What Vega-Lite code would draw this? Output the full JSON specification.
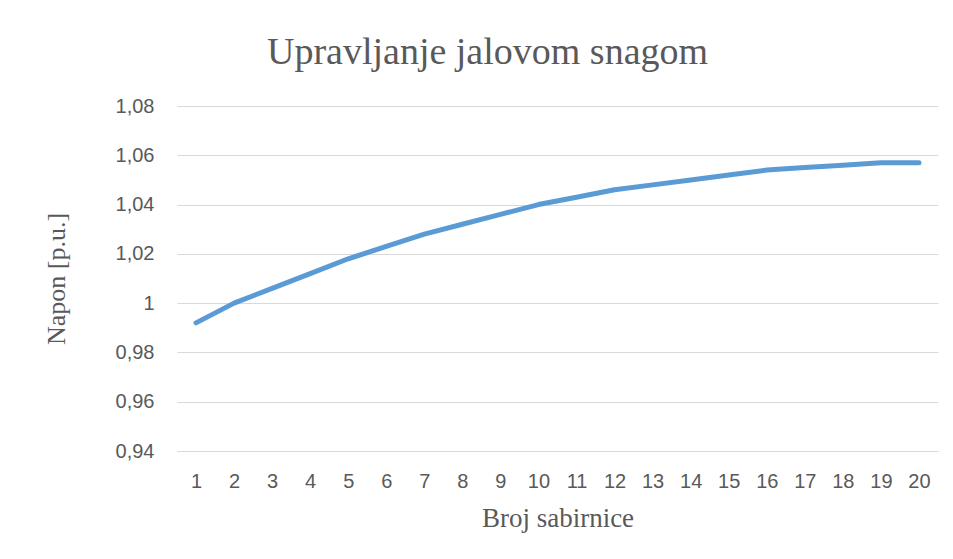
{
  "$schema": "https://vega.github.io/schema/vega-lite/v6.json",
  "width": 761,
  "height": 345,
  "autosize": {"type": "none"},
  "padding": {"left": 177, "top": 106, "right": 15, "bottom": 108},
  "background": "white",
  "title": {
    "text": "Upravljanje jalovom snagom",
    "font": "Liberation Serif",
    "fontSize": 38,
    "fontWeight": "normal",
    "color": "#595959",
    "anchor": "middle",
    "frame": "group",
    "dx": -70,
    "offset": 24
  },
  "data": {
    "values": [
      {"bus": 1, "v": 0.992},
      {"bus": 2, "v": 1.000},
      {"bus": 3, "v": 1.006},
      {"bus": 4, "v": 1.012},
      {"bus": 5, "v": 1.018},
      {"bus": 6, "v": 1.023},
      {"bus": 7, "v": 1.028},
      {"bus": 8, "v": 1.032},
      {"bus": 9, "v": 1.036},
      {"bus": 10, "v": 1.040},
      {"bus": 11, "v": 1.043},
      {"bus": 12, "v": 1.046},
      {"bus": 13, "v": 1.048},
      {"bus": 14, "v": 1.050},
      {"bus": 15, "v": 1.052},
      {"bus": 16, "v": 1.054},
      {"bus": 17, "v": 1.055},
      {"bus": 18, "v": 1.056},
      {"bus": 19, "v": 1.057},
      {"bus": 20, "v": 1.057}
    ]
  },
  "mark": {"type": "line", "color": "#5B9BD5", "strokeWidth": 5, "strokeCap": "round", "strokeJoin": "round"},
  "encoding": {
    "x": {
      "field": "bus",
      "type": "ordinal",
      "sort": "ascending",
      "scale": {"type": "point", "padding": 0.5},
      "axis": {
        "title": "Broj sabirnice",
        "titleFont": "Liberation Serif",
        "titleFontSize": 27,
        "titleFontWeight": "normal",
        "titleColor": "#595959",
        "titlePadding": 14,
        "labelFont": "Liberation Sans",
        "labelFontSize": 20,
        "labelColor": "#595959",
        "labelAngle": 0,
        "labelPadding": 20,
        "ticks": false,
        "domain": true,
        "domainColor": "#d9d9d9",
        "domainWidth": 1,
        "grid": false
      }
    },
    "y": {
      "field": "v",
      "type": "quantitative",
      "scale": {"domain": [0.94, 1.08], "zero": false, "nice": false},
      "axis": {
        "title": "Napon [p.u.]",
        "titleFont": "Liberation Serif",
        "titleFontSize": 26,
        "titleFontWeight": "normal",
        "titleColor": "#595959",
        "titlePadding": 46,
        "values": [0.94, 0.96, 0.98, 1.0, 1.02, 1.04, 1.06, 1.08],
        "labelExpr": "datum.value == 1 ? '1' : replace(format(datum.value, '.2f'), '.', ',')",
        "labelFont": "Liberation Sans",
        "labelFontSize": 20,
        "labelColor": "#595959",
        "labelPadding": 23,
        "ticks": false,
        "domain": false,
        "grid": true,
        "gridColor": "#d9d9d9",
        "gridWidth": 1
      }
    }
  },
  "config": {
    "view": {"stroke": null}
  }
}
